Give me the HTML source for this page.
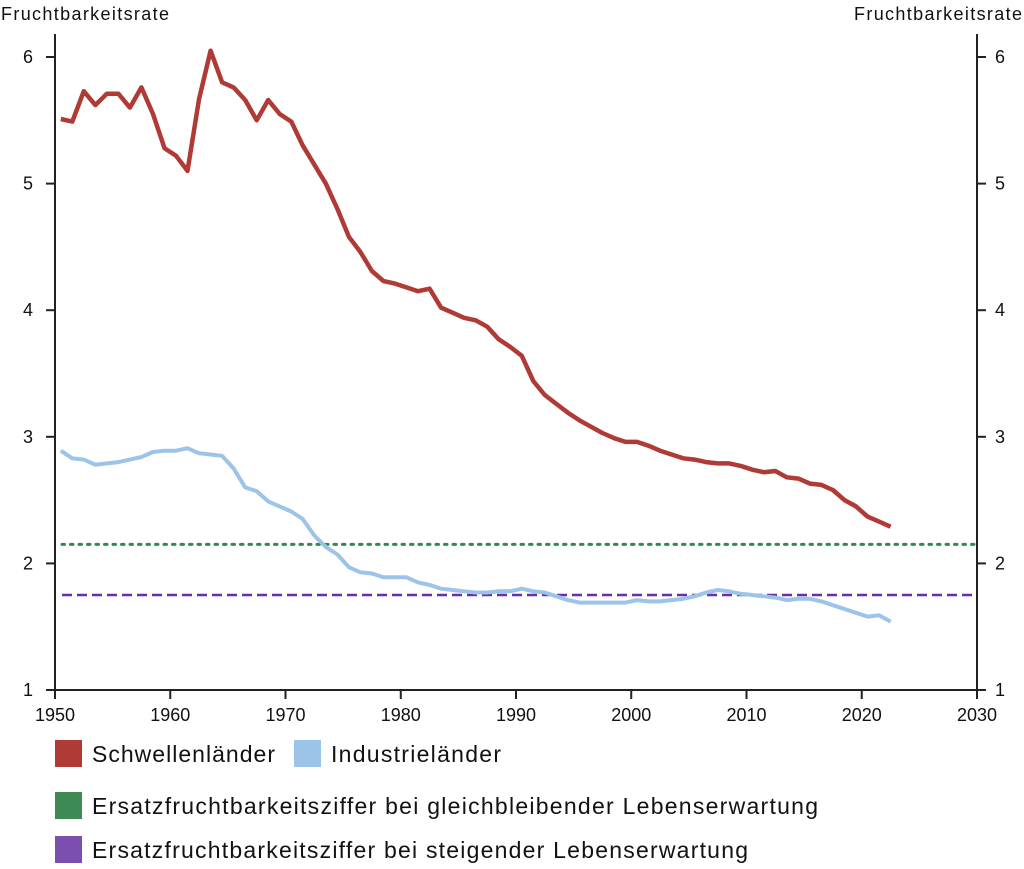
<!DOCTYPE html>
<html><head><meta charset="utf-8"><style>
body{margin:0;background:#fff;font-family:"Liberation Sans",sans-serif;}
svg text{font-family:"Liberation Sans",sans-serif;fill:#111;}
</style></head><body>
<svg width="1024" height="864">
<g id="axes"></g><g id="marks"></g><g id="legend"></g>
</svg>
<script>
const years=[];for(let y=1950;y<=2022;y++)years.push(y);
const emerging=[5.51,5.49,5.73,5.62,5.71,5.71,5.60,5.76,5.55,5.28,5.22,5.10,5.67,6.05,5.80,5.76,5.66,5.50,5.66,5.55,5.49,5.30,5.15,5.00,4.80,4.58,4.46,4.31,4.23,4.21,4.18,4.15,4.17,4.02,3.98,3.94,3.92,3.87,3.77,3.71,3.64,3.44,3.33,3.26,3.19,3.13,3.08,3.03,2.99,2.96,2.96,2.93,2.89,2.86,2.83,2.82,2.80,2.79,2.79,2.77,2.74,2.72,2.73,2.68,2.67,2.63,2.62,2.58,2.50,2.45,2.37,2.33,2.29];
const industrial=[2.89,2.83,2.82,2.78,2.79,2.80,2.82,2.84,2.88,2.89,2.89,2.91,2.87,2.86,2.85,2.75,2.60,2.57,2.49,2.45,2.41,2.35,2.22,2.13,2.07,1.97,1.93,1.92,1.89,1.89,1.89,1.85,1.83,1.80,1.79,1.78,1.77,1.77,1.78,1.78,1.80,1.78,1.77,1.74,1.71,1.69,1.69,1.69,1.69,1.69,1.71,1.70,1.70,1.71,1.72,1.74,1.77,1.79,1.78,1.76,1.75,1.74,1.73,1.71,1.72,1.72,1.70,1.67,1.64,1.61,1.58,1.59,1.54];
const refConstant=[2.15];
const refRising=[1.75];
const yTicks=[1,2,3,4,5,6];
const xTicks=[1950,1960,1970,1980,1990,2000,2010,2020,2030];
const NS="http://www.w3.org/2000/svg";
const X=y=>55+(y-1950)*(922/80);
const Y=v=>690-(v-1)*126.6;
function el(tag,attrs,parent,txt){const e=document.createElementNS(NS,tag);for(const k in attrs)e.setAttribute(k,attrs[k]);if(txt!==undefined)e.textContent=txt;parent.appendChild(e);return e;}
const ax=document.getElementById('axes'),mk=document.getElementById('marks'),lg=document.getElementById('legend');
let e;
e=el('line',{x1:55,y1:34,x2:55,y2:690,stroke:'#222','stroke-width':2},ax);


e=el('line',{x1:977,y1:34,x2:977,y2:690,stroke:'#222','stroke-width':2},ax);


e=el('line',{x1:54,y1:690,x2:978,y2:690,stroke:'#222','stroke-width':2},ax);


yTicks.forEach(t=>{
 el('line',{x1:46,y1:Y(t),x2:55,y2:Y(t),stroke:'#222','stroke-width':2},ax);
 el('line',{x1:977,y1:Y(t),x2:986,y2:Y(t),stroke:'#222','stroke-width':2},ax);
 e=el('text',{x:28,y:Y(t)+6,'font-size':18,'text-anchor':'middle'},ax,t);
 
 
 e=el('text',{x:1000,y:Y(t)+6,'font-size':18,'text-anchor':'middle'},ax,t);
 
 
});
xTicks.forEach(t=>{
 el('line',{x1:X(t),y1:690,x2:X(t),y2:699,stroke:'#222','stroke-width':2},ax);
 e=el('text',{x:X(t),y:721,'font-size':18,'text-anchor':'middle'},ax,t);
 
 
});
e=el('text',{x:1,y:20,'font-size':18,textLength:168,lengthAdjust:'spacing'},ax,'Fruchtbarkeitsrate');


e=el('text',{x:854,y:20,'font-size':18,textLength:168,lengthAdjust:'spacing'},ax,'Fruchtbarkeitsrate');


e=el('line',{x1:62,x2:975,y1:Y(refConstant[0]),y2:Y(refConstant[0]),stroke:'#2e8b4a','stroke-width':3,'stroke-dasharray':'2.5 6','stroke-linecap':'round'},mk);


e=el('line',{x1:62,x2:975,y1:Y(refRising[0]),y2:Y(refRising[0]),stroke:'#6a2fa8','stroke-width':2.5,'stroke-dasharray':'10 5'},mk);


function path(vals){return vals.map((v,i)=>(i?'L':'M')+X(years[i]+0.5).toFixed(1)+','+Y(v).toFixed(1)).join(' ');}
e=el('path',{d:path(industrial),fill:'none',stroke:'#9cc4e8','stroke-width':4,'stroke-linejoin':'round'},mk);


e=el('path',{d:path(emerging),fill:'none',stroke:'#b03a35','stroke-width':4.5,'stroke-linejoin':'round'},mk);


const legItems=[[55,740,'#b03a35','Schwellenländer','legend-emerging',183],[294,740,'#9cc4e8','Industrieländer','legend-industrial',170],[55,792,'#3d8a55','Ersatzfruchtbarkeitsziffer bei gleichbleibender Lebenserwartung','legend-replacement-constant',726],[55,836,'#7a4fb0','Ersatzfruchtbarkeitsziffer bei steigender Lebenserwartung','legend-replacement-rising',656]];
legItems.forEach(it=>{
 const g=el('g',{},lg);
 
 
 el('rect',{x:it[0],y:it[1],width:27,height:27,fill:it[2]},g);
 el('text',{x:it[0]+37,y:it[1]+22,'font-size':23,textLength:it[5],lengthAdjust:'spacing'},g,it[3]);
});
</script>
</body></html>
